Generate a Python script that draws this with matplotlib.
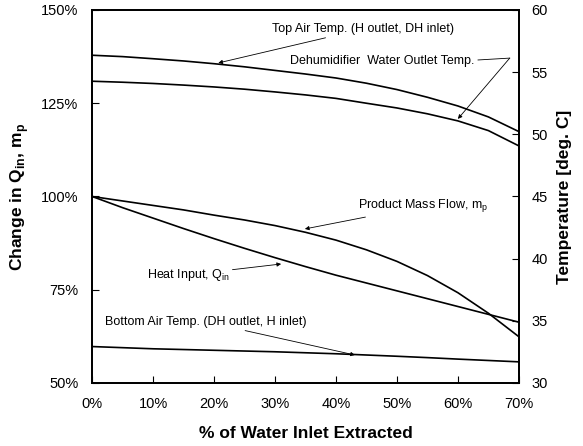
import matplotlib
matplotlib.use("Agg")
import matplotlib.pyplot as plt

plt.rcParams['font.family'] = ['Liberation Sans', 'DejaVu Sans']
plt.rcParams['mathtext.fontset'] = 'custom'
plt.rcParams['mathtext.rm'] = 'Liberation Sans'
plt.rcParams['mathtext.bf'] = 'Liberation Sans:bold'

# Data
extracted = [0, 5, 10, 15, 20, 25, 30, 35, 40, 45, 50, 55, 60, 65, 70]  # % of water inlet extracted
mass_flow = [100, 98.8, 97.6, 96.4, 95.0, 93.7, 92.2, 90.4, 88.3, 85.7, 82.6, 78.8, 74.2, 68.7, 62.4]
heat_input = [100, 97.0, 94.2, 91.4, 88.7, 86.1, 83.6, 81.2, 78.9, 76.8, 74.7, 72.6, 70.5, 68.4, 66.3]
top_air_T = [56.36, 56.25, 56.08, 55.90, 55.68, 55.43, 55.14, 54.85, 54.53, 54.11, 53.60, 52.98, 52.28, 51.40, 50.22]
dh_water_T = [54.27, 54.19, 54.09, 53.96, 53.81, 53.63, 53.41, 53.17, 52.89, 52.50, 52.12, 51.65, 51.08, 50.30, 49.07]
bottom_air_T = [32.93, 32.84, 32.75, 32.69, 32.63, 32.57, 32.51, 32.43, 32.35, 32.25, 32.15, 32.04, 31.92, 31.81, 31.70]

x_ticks = [0, 10, 20, 30, 40, 50, 60, 70]
x_ticklabels = ['0%', '10%', '20%', '30%', '40%', '50%', '60%', '70%']
left_ticks = [50, 75, 100, 125, 150]
left_ticklabels = ['50%', '75%', '100%', '125%', '150%']
right_ticks = [30, 35, 40, 45, 50, 55, 60]

fig = plt.figure(figsize=(5.83, 4.46), dpi=100)
ax = fig.add_axes([0.158, 0.1413, 0.732, 0.8363])
ax2 = ax.twinx()

lw = 1.2
ax.plot(extracted, mass_flow, color='black', lw=lw)
ax.plot(extracted, heat_input, color='black', lw=lw)
ax2.plot(extracted, top_air_T, color='black', lw=lw)
ax2.plot(extracted, dh_water_T, color='black', lw=lw)
ax2.plot(extracted, bottom_air_T, color='black', lw=lw)

ax.set_xlim(0, 70)
ax.set_ylim(50, 150)
ax2.set_ylim(30, 60)
ax.set_xticks(x_ticks)
ax.set_xticklabels(x_ticklabels)
ax.set_yticks(left_ticks)
ax.set_yticklabels(left_ticklabels)
ax2.set_yticks(right_ticks)

for a in (ax, ax2):
    for s in a.spines.values():
        s.set_linewidth(1.3)
ax.tick_params(direction='in', length=5, width=0.8, labelsize=10.5, pad=10)
ax.tick_params(axis='x', pad=10)
ax2.tick_params(direction='in', length=5, width=0.8, labelsize=10.5, pad=9)

ax.set_xlabel('% of Water Inlet Extracted', fontsize=12.5, fontweight='bold')
ax.set_ylabel(r'Change in Q$_{\bf in}$, m$_{\bf p}$', fontsize=12.5, fontweight='bold')
ax2.set_ylabel('Temperature [deg. C]', fontsize=12.5, fontweight='bold')
ax.xaxis.set_label_coords(0.5, -0.115)
ax.yaxis.set_label_coords(-0.143, 0.5)
ax2.yaxis.set_label_coords(1.089, 0.5)

ap = dict(arrowstyle='-|>', lw=0.6, color='black', mutation_scale=6, shrinkA=0, shrinkB=0)
fs = 9
ax.annotate('Top Air Temp. (H outlet, DH inlet)', xy=(20.7, 135.8), xytext=(29.5, 144.9),
            fontsize=fs, va='center', ha='left', arrowprops=ap)
ax.text(32.5, 136.3, 'Dehumidifier  Water Outlet Temp.', fontsize=fs, va='center', ha='left')
ax.plot([63.3, 68.5], [136.6, 137.1], color='black', lw=0.6)
ax.annotate('', xy=(60.0, 120.8), xytext=(68.5, 137.1), arrowprops=ap)
ax.annotate(r'Product Mass Flow, m$_{\mathregular{p}}$', xy=(34.9, 91.3), xytext=(43.6, 97.5),
            fontsize=fs, va='center', ha='left', arrowprops=ap)
ax.annotate(r'Heat Input, Q$_{\mathregular{in}}$', xy=(31.0, 81.9), xytext=(9.0, 79.0),
            fontsize=fs, va='center', ha='left', arrowprops=ap)
ax.annotate('Bottom Air Temp. (DH outlet, H inlet)', xy=(43.1, 57.5), xytext=(2.1, 66.4),
            fontsize=fs, va='center', ha='left', arrowprops=ap)

fig.savefig('out.png', dpi=100)
